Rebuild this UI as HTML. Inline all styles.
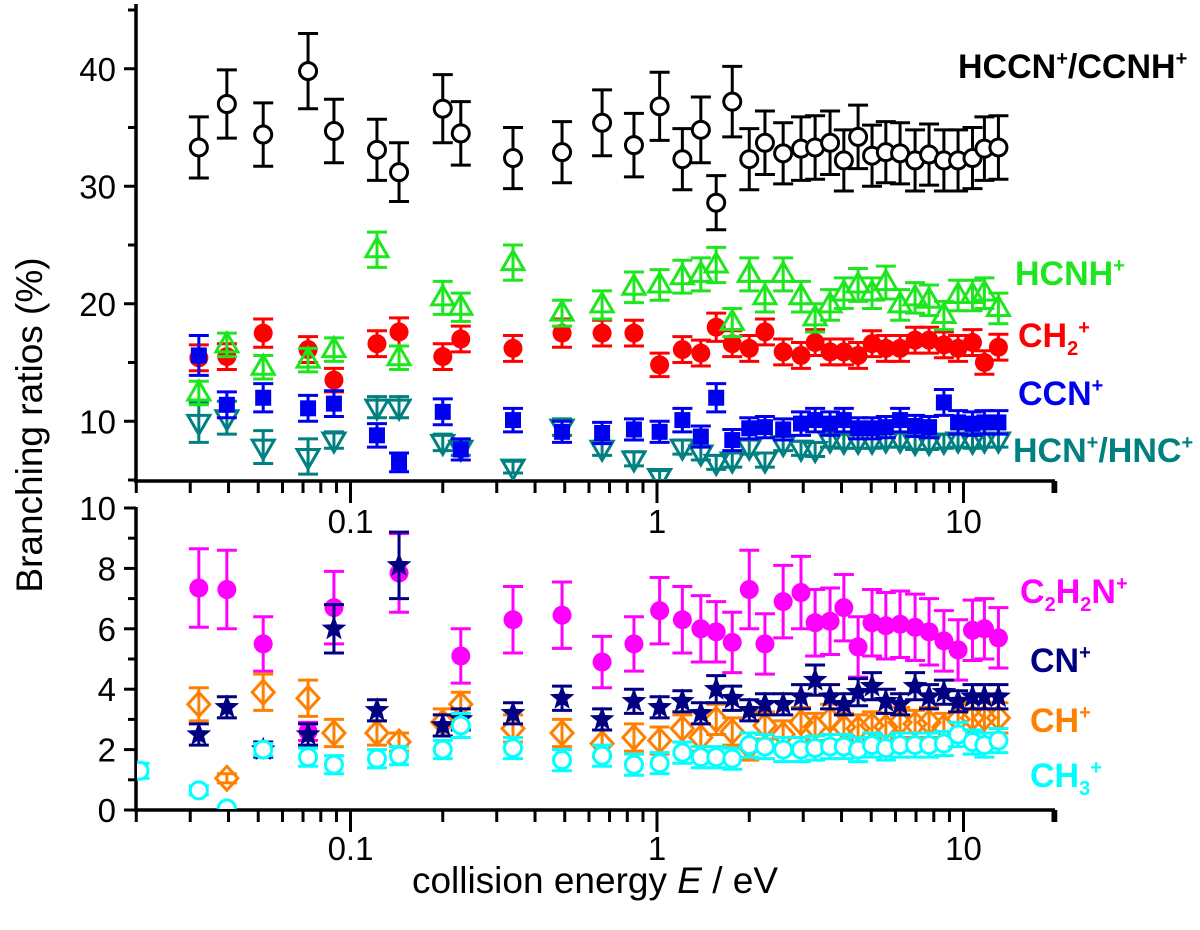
<!DOCTYPE html>
<html><head><meta charset="utf-8"><style>
html,body{margin:0;padding:0;background:#fff}
svg{display:block}
text{font-family:"Liberation Sans",sans-serif}
.lab{font-family:"Liberation Sans Narrow","Liberation Sans",sans-serif;font-weight:bold;font-size:34px}
</style></head><body>
<svg id="chart" width="1200" height="930" viewBox="0 0 1200 930" xmlns="http://www.w3.org/2000/svg">
<defs>
<clipPath id="clipTop"><rect x="137" y="0" width="916" height="480"/></clipPath>
<clipPath id="clipBot"><rect x="137" y="483" width="916" height="326"/></clipPath>
</defs>
<g id="axes"></g>
<g id="topPlot" clip-path="url(#clipTop)"></g>
<g id="botPlot" clip-path="url(#clipBot)"></g>
<text transform="translate(42,425) rotate(-90)" text-anchor="middle" font-size="37">Branching ratios (%)</text>
<text x="595" y="893" text-anchor="middle" font-size="37">collision energy <tspan font-style="italic">E</tspan> / eV</text>
<text class="lab" x="958" y="78" fill="#000">HCCN<tspan dy="-13" font-size="20">+</tspan><tspan dy="13">/CCNH</tspan><tspan dy="-13" font-size="20">+</tspan></text>
<text class="lab" x="1015" y="285" fill="#1ee61e">HCNH<tspan dy="-13" font-size="20">+</tspan></text>
<text class="lab" x="1018" y="347" fill="#f00">CH<tspan dy="8" font-size="20">2</tspan><tspan dy="-21" font-size="20">+</tspan></text>
<text class="lab" x="1018" y="405" fill="#0000f0">CCN<tspan dy="-13" font-size="20">+</tspan></text>
<text class="lab" x="1013" y="462" fill="#008080">HCN<tspan dy="-13" font-size="20">+</tspan><tspan dy="13">/HNC</tspan><tspan dy="-13" font-size="20">+</tspan></text>
<text class="lab" x="1020" y="603" fill="#f0f">C<tspan dy="8" font-size="20">2</tspan><tspan dy="-8">H</tspan><tspan dy="8" font-size="20">2</tspan><tspan dy="-8">N</tspan><tspan dy="-13" font-size="20">+</tspan></text>
<text class="lab" x="1030" y="672" fill="#000080">CN<tspan dy="-13" font-size="20">+</tspan></text>
<text class="lab" x="1030" y="732" fill="#ff8000">CH<tspan dy="-13" font-size="20">+</tspan></text>
<text class="lab" x="1030" y="787" fill="#00ffff">CH<tspan dy="8" font-size="20">3</tspan><tspan dy="-21" font-size="20">+</tspan></text>
</svg>
<script>
const energies=[0.032,0.0395,0.0519,0.0727,0.0883,0.122,0.144,0.200,0.229,0.339,0.490,0.662,0.841,1.02,1.21,1.39,1.56,1.76,2.00,2.25,2.58,2.95,3.28,3.67,4.07,4.53,5.03,5.58,6.21,6.95,7.72,8.63,9.60,10.7,11.7,13.0];
const hccn=[33.3,37.0,34.4,39.8,34.7,33.1,31.2,36.6,34.5,32.4,32.9,35.4,33.5,36.8,32.3,34.8,28.6,37.2,32.3,33.7,32.8,33.2,33.3,33.7,32.2,34.2,32.6,32.9,32.8,32.2,32.7,32.2,32.2,32.4,33.2,33.3];
const hccnErr=[2.6,2.9,2.7,3.2,2.7,2.6,2.5,2.9,2.7,2.6,2.6,2.8,2.7,2.9,2.6,2.8,2.3,3.0,2.6,2.7,2.6,2.7,2.7,2.7,2.6,2.7,2.6,2.6,2.6,2.6,2.6,2.6,2.6,2.6,2.7,2.7];
const hcnh=[12.4,16.5,14.6,15.2,16.1,24.6,15.4,20.5,19.7,23.5,19.2,19.9,21.4,21.6,22.3,22.5,23.3,18.4,22.5,20.6,22.5,20.6,18.8,19.9,20.9,21.6,20.9,21.8,19.9,20.5,20.3,19.0,20.7,20.7,20.9,19.6];
const hcnhErr=[1,1,1,1,1,1.5,1,1.4,1.2,1.5,1.1,1.2,1.3,1.3,1.4,1.4,1.5,1.2,1.4,1.3,1.4,1.3,1.2,1.3,1.3,1.4,1.3,1.4,1.3,1.3,1.3,1.2,1.3,1.3,1.3,1.3];
const ch2=[15.4,15.5,17.5,16.1,13.5,16.6,17.6,15.5,17.0,16.2,17.5,17.5,17.5,14.8,16.1,15.8,18.0,16.6,16.2,17.6,15.9,15.6,16.7,15.9,15.9,15.6,16.6,16.2,16.2,16.9,16.9,16.5,16.2,16.7,15.0,16.3];
const ch2Err=[1.1,1.1,1.2,1.1,1.0,1.1,1.2,1.1,1.1,1.1,1.2,1.1,1.1,1.0,1.1,1.1,1.2,1.1,1.1,1.1,1.1,1.1,1.1,1.1,1.1,1.1,1.1,1.1,1.1,1.1,1.1,1.1,1.1,1.1,1.0,1.1];
const ccn=[15.6,11.4,12.0,11.1,11.5,8.8,6.5,10.8,7.6,10.1,9.1,9.0,9.3,9.1,10.1,8.7,12.0,8.4,9.4,9.5,9.3,9.8,10.1,9.8,10.1,9.4,9.4,9.5,10.1,9.6,9.5,11.6,9.9,9.8,9.9,9.9];
const ccnErr=[1.7,1.1,1.2,1.1,1.1,1.0,0.8,1.1,0.9,1.0,0.9,0.9,0.9,0.9,1.0,0.9,1.2,0.9,0.9,0.9,0.9,1.0,1.0,1.0,1.0,0.9,0.9,0.9,1.0,0.9,0.9,1.1,1.0,1.0,1.0,1.0];
const hcn=[9.9,10.3,7.8,7.0,8.4,11.2,11.2,8.2,7.7,6.1,9.5,7.7,6.8,5.3,7.8,7.3,6.5,6.7,7.8,6.7,8.1,7.7,7.6,8.4,8.3,8.3,8.3,8.4,8.4,8.2,8.2,8.3,8.4,8.3,8.4,8.4];
const hcnErr=[1.7,1.4,1.4,1.5,0.7,0.9,0.9,0.7,0.6,0.5,0.7,0.6,0.6,0.5,0.6,0.6,0.6,0.6,0.6,0.6,0.6,0.6,0.6,0.6,0.6,0.6,0.6,0.6,0.6,0.6,0.6,0.6,0.6,0.6,0.6,0.6];
const c2h2n=[7.35,7.3,5.5,2.6,6.7,null,7.85,null,5.1,6.3,6.45,4.9,5.5,6.6,6.3,6.0,5.9,5.55,7.3,5.5,6.9,7.2,6.2,6.25,6.7,5.4,6.2,6.1,6.15,6.05,5.9,5.6,5.3,5.95,6.0,5.7];
const c2h2nErr=[1.3,1.3,0.9,0.3,1.2,0,1.3,0,0.9,1.1,1.1,0.85,0.9,1.1,1.1,1.1,1.0,1.0,1.3,1.0,1.2,1.2,1.1,1.1,1.1,1.0,1.1,1.1,1.1,1.1,1.1,1.0,1.0,1.0,1.0,1.0];
const cn=[2.5,3.4,2.0,2.5,6.0,3.3,8.1,2.8,3.0,3.2,3.7,3.0,3.6,3.4,3.6,3.2,4.0,3.7,3.3,3.5,3.5,3.75,4.3,3.75,3.5,3.9,4.1,3.6,3.5,4.1,3.75,3.9,3.6,3.75,3.75,3.75];
const cnErr=[0.35,0.35,0.25,0.35,0.8,0.35,1.1,0.35,0.35,0.35,0.4,0.35,0.4,0.35,0.35,0.35,0.45,0.4,0.35,0.35,0.35,0.4,0.5,0.4,0.35,0.45,0.45,0.4,0.35,0.45,0.4,0.4,0.35,0.4,0.4,0.4];
const ch=[3.5,1.05,3.9,3.7,2.55,2.55,2.25,2.9,3.5,2.7,2.55,2.2,2.4,2.3,2.7,2.4,3.0,2.6,2.1,2.8,2.5,2.9,2.75,3.0,2.75,2.7,2.8,2.75,2.9,2.85,2.9,2.75,3.0,3.05,3.05,3.05];
const chErr=[0.55,0.15,0.6,0.6,0.45,0.4,0.3,0.45,0.4,0.45,0.45,0.45,0.45,0.45,0.45,0.45,0.5,0.45,0.45,0.45,0.45,0.5,0.45,0.5,0.45,0.45,0.45,0.45,0.5,0.45,0.5,0.45,0.5,0.5,0.5,0.5];
const ch3Energies=[0.0205].concat(energies);
const ch3=[1.3,0.65,0.05,2.0,1.75,1.5,1.7,1.8,2.0,2.8,2.05,1.65,1.8,1.5,1.55,1.9,1.75,1.75,1.7,2.15,2.1,2.0,2.0,2.05,2.1,2.1,2.0,2.15,2.05,2.15,2.15,2.15,2.2,2.5,2.25,2.15,2.3];
const ch3Err=[0.25,0.15,0,0.2,0.3,0.3,0.3,0.3,0.3,0.4,0.35,0.35,0.35,0.35,0.35,0.35,0.35,0.35,0.35,0.4,0.4,0.4,0.4,0.4,0.4,0.4,0.4,0.4,0.4,0.4,0.4,0.4,0.4,0.4,0.4,0.4,0.4];
const topTicks=[10,20,30,40];
const botTicks=[0,2,4,6,8,10];
const xTickLabels=["0.1","1","10"];
const xTickValues=[0.1,1,10];

const NS="http://www.w3.org/2000/svg";
function xs(e){return 657+306.5*Math.log10(e);}
function yTop(v){return 480-(v-5)*11.75;}
function yBot(v){return 810-v*30.2;}
function mk(tag,attrs,parent){const el=document.createElementNS(NS,tag);for(const k in attrs)el.setAttribute(k,attrs[k]);parent.appendChild(el);return el;}
const axes=document.getElementById('axes');
function line(x1,y1,x2,y2,p,w){return mk('line',{x1,y1,x2,y2,stroke:'#000','stroke-width':w||3},p);}

let a=line(136,4,136,481,axes,3.5);


for(let v=5;v<=45;v+=5){line(136,yTop(v),v%10===0?124:128,yTop(v),axes,3);}
topTicks.forEach(v=>{const t=mk('text',{x:116,y:yTop(v)+12,'text-anchor':'end','font-size':33},axes);t.textContent=v;

});
a=line(136,507,136,811,axes,3.5);


for(let v=0;v<=10;v+=1){line(136,yBot(v),v%2===0?124:128,yBot(v),axes,3);}
botTicks.forEach(v=>{const t=mk('text',{x:116,y:yBot(v)+12,'text-anchor':'end','font-size':33},axes);t.textContent=v;

});
[[481,'upper-x-axis'],[810,'lower-x-axis']].forEach(([y,n])=>{
 const l=line(134,y,1055,y,axes,3.5);
 
 
 for(let d=-2;d<=1;d++){for(let m=1;m<=9;m++){const e=m*Math.pow(10,d);if(e<0.02||e>20)continue;const x=xs(e);line(x,y,x,y+(m===1?22:12),axes,3);}}
 line(1053,y,1053,y+12,axes,3);
});
xTickValues.forEach((e,i)=>{[533,860].forEach(y=>{const t=mk('text',{x:xs(e),y:y,'text-anchor':'middle','font-size':33},axes);t.textContent=xTickLabels[i];

});});

function marker(p,type,x,y,c){
 if(type==='ocircle')return mk('circle',{cx:x,cy:y,r:8.5,fill:'#fff',stroke:c,'stroke-width':3},p);
 if(type==='fcircle')return mk('circle',{cx:x,cy:y,r:9.5,fill:c},p);
 if(type==='square')return mk('rect',{x:x-8,y:y-8,width:16,height:16,fill:c},p);
 if(type==='utri')return mk('polygon',{points:`${x},${y-12} ${x+11},${y+7} ${x-11},${y+7}`,fill:'none',stroke:c,'stroke-width':3},p);
 if(type==='dtri')return mk('polygon',{points:`${x},${y+12} ${x+11},${y-7} ${x-11},${y-7}`,fill:'none',stroke:c,'stroke-width':3},p);
 if(type==='diamond')return mk('polygon',{points:`${x},${y-12} ${x+11},${y} ${x},${y+12} ${x-11},${y}`,fill:'none',stroke:c,'stroke-width':3},p);
 if(type==='star'){let pts=[];for(let k=0;k<10;k++){const r=k%2?5.5:13;const an=-Math.PI/2+k*Math.PI/5;pts.push((x+r*Math.cos(an)).toFixed(1)+','+(y+r*Math.sin(an)).toFixed(1));}return mk('polygon',{points:pts.join(' '),fill:c},p);}
}
function series(p,name,xsArr,vals,errs,yf,type,c){
 const g=mk('g',{},p);
 
 
 vals.forEach((v,i)=>{if(v===null)return;const x=xs(xsArr[i]);const y=yf(v);const e=errs[i];
  if(e>0){const y1=yf(v+e),y2=yf(v-e);
   mk('line',{x1:x,y1:y1,x2:x,y2:y2,stroke:c,'stroke-width':3},g);
   mk('line',{x1:x-10,y1:y1,x2:x+10,y2:y1,stroke:c,'stroke-width':3},g);
   mk('line',{x1:x-10,y1:y2,x2:x+10,y2:y2,stroke:c,'stroke-width':3},g);}
  const m=marker(g,type,x,y,c);
  
  
 });
}
const T=document.getElementById('topPlot'),B=document.getElementById('botPlot');
series(T,'hcn-hnc-series',energies,hcn,hcnErr,yTop,'dtri','#008080');
series(T,'ch2-series',energies,ch2,ch2Err,yTop,'fcircle','#f00');
series(T,'ccn-series',energies,ccn,ccnErr,yTop,'square','#0000f0');
series(T,'hcnh-series',energies,hcnh,hcnhErr,yTop,'utri','#1ee61e');
series(T,'hccn-series',energies,hccn,hccnErr,yTop,'ocircle','#000');
series(B,'c2h2n-series',energies,c2h2n,c2h2nErr,yBot,'fcircle','#f0f');
series(B,'ch-series',energies,ch,chErr,yBot,'diamond','#ff8000');
series(B,'cn-series',energies,cn,cnErr,yBot,'star','#000080');
series(B,'ch3-series',ch3Energies,ch3,ch3Err,yBot,'ocircle','#00ffff');
</script>
</body></html>
